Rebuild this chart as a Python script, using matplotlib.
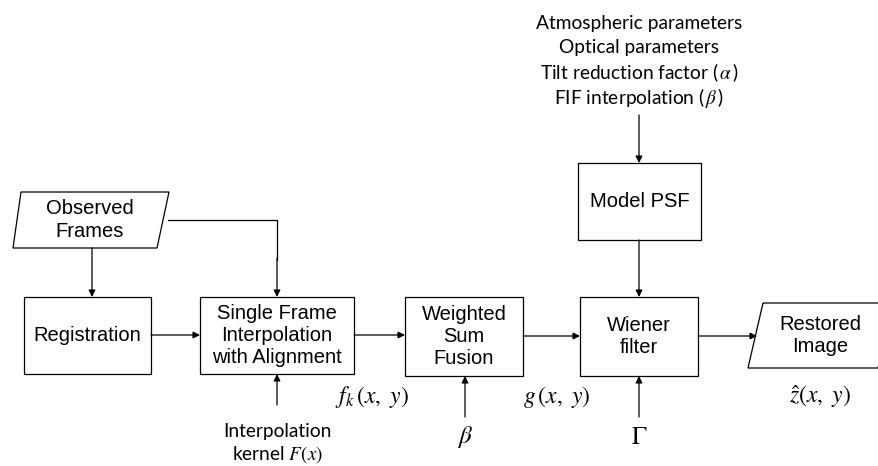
import matplotlib.pyplot as plt
from matplotlib.patches import Rectangle, Polygon

plt.rcParams['mathtext.fontset'] = 'stix'

# block labels
box_labels = ['Registration', 'Single Frame\nInterpolation\nwith Alignment',
              'Weighted\nSum\nFusion', 'Wiener\nfilter', 'Model PSF']
io_labels = ['Observed\nFrames', 'Restored\nImage']
param_lines = ['Atmospheric parameters', 'Optical parameters',
               r'Tilt reduction factor ($\,\alpha\,$)', r'FIF interpolation ($\,\beta\,$)']
signal_labels = [r'$f_k\,(x,\ y)$', r'$g\,(x,\ y)$', r'$\hat{z}(x,\ y)$']
input_labels = ['Interpolation', 'kernel $F(x)$', r'$\beta$', r'$\Gamma$']

fig = plt.figure(figsize=(8.79, 4.66), dpi=100)
ax = fig.add_axes([0, 0, 1, 1])
ax.set_xlim(0, 879)
ax.set_ylim(466, 0)
ax.axis('off')

LW = 0.9
box_font = dict(family='Liberation Sans', fontsize=14.5, ha='center', va='center',
                linespacing=1.22)
cal_font = dict(family='Lato', fontsize=13.8, ha='center', va='center')


def box(x0, x1, y0, y1, label):
    ax.add_patch(Rectangle((x0, y0), x1 - x0, y1 - y0, fill=False, lw=LW, ec='black'))
    ax.text((x0 + x1) / 2, (y0 + y1) / 2, label, **box_font)


def para(xt0, xt1, xb0, xb1, yt, yb, label):
    ax.add_patch(Polygon([(xt0, yt), (xt1, yt), (xb1, yb), (xb0, yb)],
                         closed=True, fill=False, lw=LW, ec='black'))
    ax.text((xt0 + xt1 + xb0 + xb1) / 4, (yt + yb) / 2, label, **box_font)


def arrow(x0, y0, x1, y1):
    ax.annotate('', xy=(x1, y1), xytext=(x0, y0),
                arrowprops=dict(arrowstyle='-|>', lw=LW, color='black',
                                mutation_scale=10, shrinkA=0, shrinkB=0))


# boxes
box(24, 151, 297, 374, box_labels[0])
box(200, 354, 297, 374, box_labels[1])
box(405, 523, 297, 376, box_labels[2])
box(580, 698, 297, 376, box_labels[3])
box(578, 701, 163, 240, box_labels[4])

para(21, 169, 13, 157, 192, 248, io_labels[0])
para(763, 892, 748, 878, 303, 368, io_labels[1])

# flow arrows
arrow(92, 248, 92, 297)
ax.plot([168, 277, 277], [220, 220, 260], color='black', lw=LW)
arrow(277, 258, 277, 297)
arrow(151, 335, 200, 335)
arrow(354, 335, 405, 335)
arrow(523, 336, 580, 336)
arrow(698, 336, 757, 336)
arrow(639, 115, 639, 163)
arrow(639, 240, 639, 297)

# inputs from below
arrow(277, 405, 277, 374)
arrow(465, 417, 465, 376)
arrow(639, 417, 639, 376)

# parameter text
for i, line in enumerate(param_lines):
    ax.text(639, 23 + 25 * i, line, **cal_font)

# signal labels
ax.text(372, 397, signal_labels[0], fontsize=17, ha='center', va='center')
ax.text(557, 397, signal_labels[1], fontsize=17, ha='center', va='center')
ax.text(820, 397, signal_labels[2], fontsize=17, ha='center', va='center')

ax.text(277, 432, input_labels[0], **cal_font)
ax.text(277, 455, input_labels[1], **cal_font)
ax.text(465, 437, input_labels[2], fontsize=18, ha='center', va='center')
ax.text(639, 437, input_labels[3], fontsize=18, ha='center', va='center')

fig.savefig('out.png', dpi=100)
